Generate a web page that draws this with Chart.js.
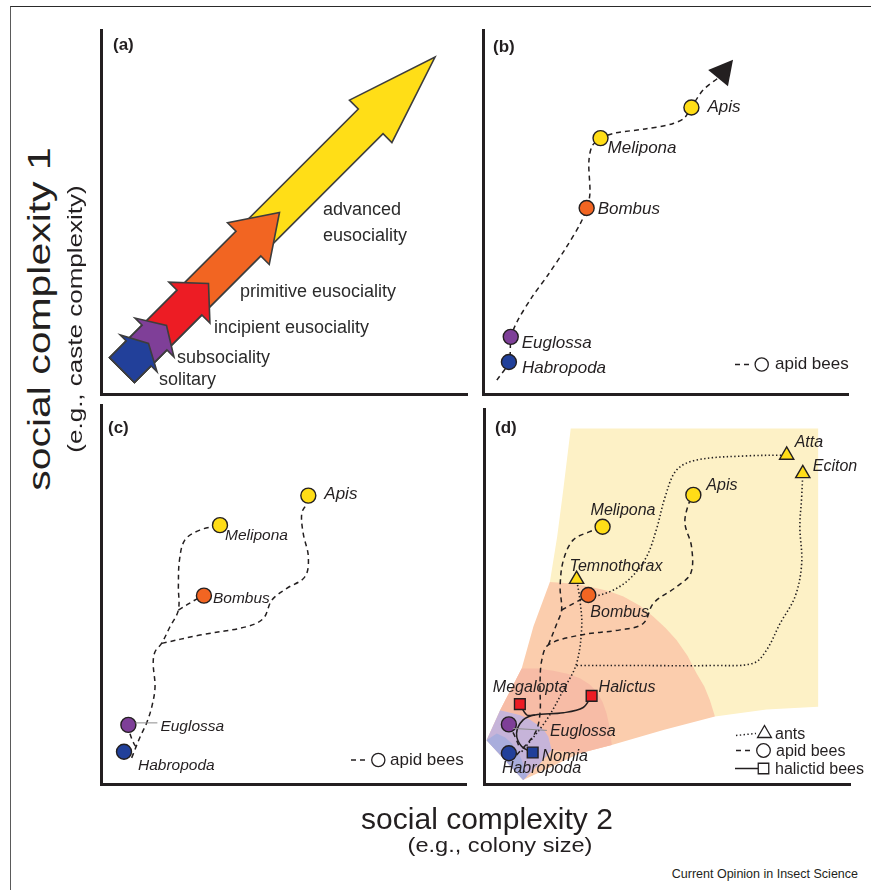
<!DOCTYPE html>
<html><head><meta charset="utf-8">
<script src="https://cdn.jsdelivr.net/npm/chart.js@4/dist/chart.umd.min.js"></script>
<style>
html,body{margin:0;padding:0;background:#fff;}
#wrap{position:relative;width:871px;height:890px;overflow:hidden;background:#fff;font-family:"Liberation Sans",Arial,Helvetica,sans-serif;color:#231f20;}
.frame{position:absolute;left:10px;top:6px;width:900px;height:900px;border-left:1.5px solid #5a5a5a;border-top:1.5px solid #2a2a2a;}
canvas{position:absolute;}
.t{position:absolute;white-space:nowrap;text-align:center;}
</style></head><body>
<div id="wrap">
  <div class="frame"></div>
  <canvas id="pa"></canvas><canvas id="pb"></canvas><canvas id="pc"></canvas><canvas id="pd"></canvas>
  <div class="t" style="left:-160px;top:304px;width:400px;font-size:31px;line-height:30px;transform:rotate(-90deg) scaleX(1.32);">social complexity 1</div>
  <div class="t" style="left:-125px;top:309px;width:400px;font-size:20px;line-height:20px;transform:rotate(-90deg) scaleX(1.3);">(e.g., caste complexity)</div>
  <div class="t" style="left:187px;top:804px;width:600px;font-size:30px;line-height:30px;">social complexity 2</div>
  <div class="t" style="left:200px;top:835px;width:600px;font-size:20px;line-height:20px;transform:scaleX(1.18);">(e.g., colony size)</div>
  <div class="t" style="left:558px;top:867px;width:300px;font-size:12.5px;line-height:14px;text-align:right;">Current Opinion in Insect Science</div>
</div>
<script>
// ================= DATA =================
// (a) stages along one diagonal (tail shared, tips differ)
const stageNames = ['solitary','subsociality','incipient eusociality','primitive eusociality','advanced eusociality'];
const stageTipX = [12.98, 17.90, 29.37, 48.77, 91.26];
const stageTipY = [13.87, 18.82, 30.36, 49.86, 92.58];
const stageTailX = 5.74;
const stageTailY = 6.59;

// (b) apid bees, single trajectory
const bTaxa = ['Apis','Melipona','Bombus','Euglossa','Habropoda'];
const bX = [57.1, 32.2, 28.4, 7.6, 7.1];
const bY = [78.7, 70.3, 51.1, 15.7, 8.8];
const bPathX = [3.8, 7.1, 7.7, 9.3, 13.4, 17.8, 22.7, 26.6, 28.5, 29.3, 29.0, 29.9, 32.3, 36.2, 44.4, 51.8, 55.1, 57.0, 60.3, 64.4];
const bPathY = [3.8, 8.8, 15.7, 19.8, 26.6, 32.7, 40.1, 46.7, 51.1, 55.2, 63.7, 68.1, 70.3, 71.7, 72.8, 74.2, 75.8, 78.6, 83.5, 86.8];
const bArrowTipX = 68.5;
const bArrowTipY = 91.8;

// (c) apid bees, branching
const cTaxa = ['Apis','Melipona','Bombus','Euglossa','Habropoda'];
const cX = [56.8, 32.6, 28.2, 7.5, 6.3];
const cY = [76.1, 68.3, 49.7, 15.6, 8.5];
const cMeliponaPathX = [8.4, 10.7, 12.5, 13.9, 14.8, 14.3, 14.8, 16.6, 18.9, 21.2, 21.2, 21.5, 23.0, 27.1, 32.6];
const cMeliponaPathY = [6.9, 12.4, 16.1, 20.3, 25.6, 31.9, 34.9, 37.1, 41.5, 45.9, 52.1, 59.1, 64.4, 67.0, 68.3];
const cBombusPathX = [21.2, 26.2, 28.2];
const cBombusPathY = [45.9, 48.8, 49.7];
const cApisPathX = [16.6, 27.1, 39.9, 44.5, 46.8, 50.9, 55.9, 56.8, 55.4, 55.0, 56.4, 56.8];
const cApisPathY = [37.1, 39.3, 41.5, 43.7, 48.5, 51.6, 54.7, 60.0, 66.1, 71.4, 74.1, 76.1];
const cEuglossaPathX = [7.5, 7.9, 9.0, 9.9];
const cEuglossaPathY = [15.6, 13.4, 10.7, 9.4];

// (d) ants, apid bees, halictid bees
const dAnts = ['Atta','Eciton','Temnothorax'];
const dAntX = [82.7, 87.1, 25.3];
const dAntY = [87.7, 82.8, 54.6];
const dBees = ['Apis','Melipona','Bombus','Euglossa','Habropoda'];
const dBeeX = [57.2, 32.4, 28.5, 6.8, 6.8];
const dBeeY = [77.1, 68.6, 50.4, 15.9, 8.2];
const dHalictids = ['Megalopta','Halictus','Nomia'];
const dHalX = [9.8, 29.4, 13.3];
const dHalY = [21.3, 23.5, 8.4];

const dAntTrunkX = [10.3, 17.1, 21.7, 25.3, 26.7, 26.2, 25.3];
const dAntTrunkY = [8.6, 17.1, 25.1, 32.2, 42.0, 49.1, 54.6];
const dAttaPathX = [26.2, 34.4, 39.9, 44.4, 47.2, 49.5, 52.6, 58.1, 71.8, 82.7];
const dAttaPathY = [49.1, 51.3, 54.8, 60.6, 68.2, 76.6, 83.7, 86.4, 87.5, 87.7];
const dEcitonPathX = [25.3, 39.9, 62.7, 73.6, 77.2, 80.9, 85.0, 86.8, 86.3, 86.8, 87.1];
const dEcitonPathY = [31.6, 31.6, 31.6, 32.2, 35.7, 42.8, 50.0, 58.8, 68.6, 76.6, 82.8];

const dApisPathX = [8.9, 13.9, 15.3, 15.3, 15.8, 17.6, 26.2, 37.2, 43.5, 46.3, 52.6, 56.5, 56.7, 54.9, 55.8, 57.2];
const dApisPathY = [7.7, 13.5, 18.8, 26.8, 33.1, 37.1, 39.7, 41.1, 42.8, 48.2, 52.6, 56.2, 63.3, 69.5, 74.4, 77.1];
const dMeliponaPathX = [17.6, 19.9, 21.2, 20.8, 21.7, 24.4, 28.9, 32.4];
const dMeliponaPathY = [37.1, 42.8, 46.4, 52.6, 59.7, 65.1, 67.3, 68.6];
const dBombusPathX = [21.2, 25.3, 28.5];
const dBombusPathY = [46.4, 48.6, 50.4];
const dEuglossaPathX = [6.8, 8.5, 9.8];
const dEuglossaPathY = [15.9, 12.6, 9.5];

const dNomiaPathX = [13.3, 10.3, 8.9, 10.7, 13.9, 21.7, 27.1, 29.4];
const dNomiaPathY = [8.4, 10.0, 13.5, 17.1, 18.4, 19.0, 20.4, 23.5];
const dMegaloptaPathX = [9.8, 11.7, 13.9];
const dMegaloptaPathY = [21.3, 18.4, 18.4];

// (d) background zones
const zoneYellowX = [23.7, 91.3, 91.3, 77.2, 63.1, 18.0, 20.0, 21.6];
const zoneYellowY = [94.8, 94.8, 20.6, 19.9, 18.0, 53.9, 66.0, 78.0];
const zoneOrangeX = [18.0, 24.0, 29.0, 34.0, 38.1, 42.5, 46.3, 49.6, 52.6, 55.6, 58.1, 60.2, 61.7, 63.1, 49.0, 34.9, 26.2, 10.7, 0.7, 4.4, 10.3, 13.5];
const zoneOrangeY = [53.9, 53.5, 52.6, 51.5, 50.0, 47.6, 44.6, 41.6, 38.4, 34.2, 29.5, 26.0, 22.4, 18.0, 14.4, 10.4, 8.2, 1.1, 11.7, 19.7, 30.8, 42.0];
const zoneSalmonX = [10.3, 14.8, 18.9, 22.8, 26.2, 28.8, 30.8, 32.4, 33.5, 34.4, 34.9, 26.2, 18.5, 17.6, 14.8, 9.8, 4.4];
const zoneSalmonY = [30.8, 30.8, 30.2, 29.4, 28.2, 26.6, 24.6, 21.9, 18.8, 14.8, 10.4, 8.2, 9.1, 12.6, 15.7, 18.4, 19.7];
const zonePurpleX = [4.4, 9.8, 12.5, 14.8, 16.5, 17.6, 18.5, 15.3, 10.7, 0.7];
const zonePurpleY = [19.7, 18.4, 17.2, 15.7, 14.2, 12.6, 9.1, 5.5, 1.1, 11.7];
const zoneBlueX = [0.7, 3.5, 5.8, 7.6, 9.2, 10.3, 11.2, 11.7, 10.7];
const zoneBlueY = [11.7, 13.5, 12.4, 10.8, 8.8, 6.4, 4.0, 2.0, 1.1];

// ================= STYLE =================
const INK = '#231f20';
const FONT = '"Liberation Sans", Arial, Helvetica, sans-serif';
const TAXON_COLOR = {
  Apis:'#ffdd17', Melipona:'#ffdd17', Bombus:'#f26522', Euglossa:'#7e3f98', Habropoda:'#21409a',
  Atta:'#ffdd17', Eciton:'#ffdd17', Temnothorax:'#ffdd17',
  Megalopta:'#ed1c24', Halictus:'#ed1c24', Nomia:'#21409a'
};
const STAGE_STYLE = {
  colors: ['#22409a', '#7f3f98', '#ed1c24', '#f26522', '#ffde17'],
  headLen: [14, 17, 27, 44, 91],
  headHalf: [26, 27.5, 29, 29.5, 30],
  shaftHalf: 17.5,
  label: [
    {dx:10.5, dy:41.5, lines:['solitary']},
    {dx:10.5, dy:37.5, lines:['subsociality']},
    {dx:5.5, dy:49.5, lines:['incipient eusociality']},
    {dx:-39.5, dy:84.5, lines:['primitive eusociality']},
    {dx:-112, dy:158, lines:['advanced','eusociality']}
  ]
};
const DASH = [5, 4];
const DOT = [1.4, 2.4];
const PAD = {left:22, right:24, top:22, bottom:22};

// ================= HELPERS =================
const zip = (xs, ys) => xs.map((x, i) => ({x, y: ys[i]}));
function pathDs(xs, ys, extra) {
  return Object.assign({data: zip(xs, ys), showLine: true, pointRadius: 0, pointHoverRadius: 0,
    borderColor: INK, borderWidth: 1.5, borderDash: DASH, tension: 0.35, fill: false, clip: false, order: 10}, extra || {});
}
function zoneDs(xs, ys, color, order) {
  return {data: zip(xs, ys), showLine: true, pointRadius: 0, pointHoverRadius: 0, borderWidth: 0,
    borderColor: 'rgba(0,0,0,0)', backgroundColor: color, fill: 'shape', tension: 0, clip: false, order};
}
function pointDs(names, xs, ys, shape, radius, order) {
  return {data: zip(xs, ys), names, showLine: false, pointStyle: shape, pointRadius: radius, pointHoverRadius: radius,
    pointBackgroundColor: names.map(n => TAXON_COLOR[n]), pointBorderColor: INK, pointBorderWidth: 1.4,
    clip: false, order: order || 0};
}
function axis(which) {
  return {type: 'linear', min: 0, max: 100, grid: {display: false}, ticks: {display: false},
    border: {display: true, color: INK, width: 3},
    afterFit(s) { if (which === 'x') s.height = 0; else s.width = 0; }};
}

function drawMarker(ctx, kind, x, y, r, fill) {
  ctx.beginPath();
  if (kind === 'circle') ctx.arc(x, y, r, 0, Math.PI * 2);
  else if (kind === 'triangle') { ctx.moveTo(x, y - r); ctx.lineTo(x + r * 0.866, y + r * 0.5); ctx.lineTo(x - r * 0.866, y + r * 0.5); ctx.closePath(); }
  else { const s = r * 0.75; ctx.rect(x - s, y - s, 2 * s, 2 * s); }
  ctx.fillStyle = fill; ctx.fill();
  ctx.lineWidth = 1.3; ctx.strokeStyle = INK; ctx.stroke();
}

const taxonLabelPlugin = {
  id: 'taxonLabels',
  afterDatasetsDraw(chart, args, opts) {
    if (!opts.offsets) return;
    const ctx = chart.ctx;
    ctx.save();
    chart.data.datasets.forEach((ds, i) => {
      if (!ds.names) return;
      const meta = chart.getDatasetMeta(i);
      ds.names.forEach((name, j) => {
        const el = meta.data[j], o = opts.offsets[name];
        if (!el || !o) return;
        if (o.leader) {
          ctx.strokeStyle = '#8c8c8c'; ctx.lineWidth = 1; ctx.setLineDash([]);
          ctx.beginPath(); ctx.moveTo(el.x + o.leader[0], el.y + o.leader[1]); ctx.lineTo(el.x + o.leader[2], el.y + o.leader[3]); ctx.stroke();
        }
        ctx.font = 'italic ' + (o.size || opts.size) + 'px ' + FONT;
        ctx.fillStyle = INK; ctx.textAlign = 'left'; ctx.textBaseline = 'alphabetic';
        ctx.fillText(name, el.x + o.dx, el.y + o.dy);
      });
    });
    ctx.restore();
  }
};

const decorPlugin = {
  id: 'decor',
  afterDraw(chart, args, opts) {
    const ctx = chart.ctx, {left, top} = chart.chartArea;
    ctx.save();
    if (opts.letter) {
      ctx.font = 'bold 17px ' + FONT; ctx.fillStyle = INK; ctx.textBaseline = 'alphabetic'; ctx.textAlign = 'left';
      ctx.fillText(opts.letter, left + opts.letterAt[0], top + opts.letterAt[1]);
    }
    (opts.legend || []).forEach(e => {
      ctx.save();
      ctx.strokeStyle = INK; ctx.lineWidth = 1.5;
      ctx.setLineDash(e.line === 'dashed' ? DASH : e.line === 'dotted' ? DOT : []);
      ctx.beginPath(); ctx.moveTo(left + e.x0, top + e.y + (e.rise || 0)); ctx.lineTo(left + e.x1, top + e.y); ctx.stroke();
      ctx.restore();
      drawMarker(ctx, e.marker, left + e.mx, top + e.y, e.r, '#fff');
      ctx.font = (e.size || 16) + 'px ' + FONT; ctx.fillStyle = INK; ctx.textAlign = 'left'; ctx.textBaseline = 'alphabetic';
      ctx.fillText(e.text, left + e.tx, top + e.y + e.ty);
    });
    ctx.restore();
  }
};

const stagePlugin = {
  id: 'stageArrows',
  beforeDatasetsDraw(chart) {
    const xs = chart.scales.x, ys = chart.scales.y, ctx = chart.ctx;
    const ox = xs.getPixelForValue(stageTailX), oy = ys.getPixelForValue(stageTailY);
    ctx.save();
    ctx.lineJoin = 'miter';
    for (let i = stageNames.length - 1; i >= 0; i--) {
      const tx = xs.getPixelForValue(stageTipX[i]), ty = ys.getPixelForValue(stageTipY[i]);
      const dx = tx - ox, dy = ty - oy, L = Math.hypot(dx, dy), ux = dx / L, uy = dy / L, nx = -uy, ny = ux;
      const hl = STAGE_STYLE.headLen[i], hw = STAGE_STYLE.headHalf[i], sw = STAGE_STYLE.shaftHalf;
      const bx = tx - ux * hl, by = ty - uy * hl;
      ctx.beginPath();
      ctx.moveTo(ox + nx * sw, oy + ny * sw);
      ctx.lineTo(bx + nx * sw, by + ny * sw);
      ctx.lineTo(bx + nx * hw, by + ny * hw);
      ctx.lineTo(tx, ty);
      ctx.lineTo(bx - nx * hw, by - ny * hw);
      ctx.lineTo(bx - nx * sw, by - ny * sw);
      ctx.lineTo(ox - nx * sw, oy - ny * sw);
      ctx.closePath();
      ctx.fillStyle = STAGE_STYLE.colors[i]; ctx.fill();
      ctx.lineWidth = 1.6; ctx.strokeStyle = '#3d3d3d'; ctx.stroke();
    }
    ctx.font = '18px ' + FONT; ctx.fillStyle = '#2b2b2b'; ctx.textAlign = 'left'; ctx.textBaseline = 'alphabetic';
    stageNames.forEach((n, i) => {
      const tx = xs.getPixelForValue(stageTipX[i]), ty = ys.getPixelForValue(stageTipY[i]);
      const lab = STAGE_STYLE.label[i];
      lab.lines.forEach((ln, k) => ctx.fillText(ln, tx + lab.dx, ty + lab.dy + k * 26));
    });
    ctx.restore();
  }
};

const arrowHeadPlugin = {
  id: 'trendArrow',
  afterDatasetsDraw(chart, args, opts) {
    if (!opts.tip) return;
    const xs = chart.scales.x, ys = chart.scales.y, ctx = chart.ctx;
    const tx = xs.getPixelForValue(opts.tip.x), ty = ys.getPixelForValue(opts.tip.y);
    const bx = xs.getPixelForValue(opts.base.x), by = ys.getPixelForValue(opts.base.y);
    const dx = tx - bx, dy = ty - by, L = Math.hypot(dx, dy), nx = -dy / L, ny = dx / L, hw = 12.8;
    ctx.save();
    ctx.beginPath(); ctx.moveTo(tx, ty); ctx.lineTo(bx + nx * hw, by + ny * hw); ctx.lineTo(bx - nx * hw, by - ny * hw); ctx.closePath();
    ctx.fillStyle = INK; ctx.fill();
    ctx.restore();
  }
};

function makeChart(id, box, datasets, pluginOpts, extraPlugins) {
  const cv = document.getElementById(id);
  cv.width = box.w + PAD.left + PAD.right; cv.height = box.h + PAD.top + PAD.bottom;
  cv.style.left = (box.x - PAD.left) + 'px'; cv.style.top = (box.y - PAD.top) + 'px';
  return new Chart(cv, {
    type: 'scatter',
    data: {datasets},
    options: {
      responsive: false, animation: false, devicePixelRatio: 1, events: [],
      layout: {padding: PAD},
      plugins: Object.assign({legend: {display: false}, tooltip: {enabled: false}}, pluginOpts),
      scales: {x: axis('x'), y: axis('y')}
    },
    plugins: [taxonLabelPlugin, decorPlugin].concat(extraPlugins || [])
  });
}

// ---- (a)
makeChart('pa', {x: 101, y: 30, w: 366, h: 364},
  [{data: zip(stageTipX, stageTipY), pointRadius: 0, showLine: false}],
  {decor: {letter: '(a)', letterAt: [12, 20]}},
  [stagePlugin]);

// ---- (b)
makeChart('pb', {x: 483, y: 30, w: 365, h: 364},
  [pointDs(bTaxa, bX, bY, 'circle', 7.5, 0), pathDs(bPathX, bPathY, {tension: 0.3})],
  {decor: {letter: '(b)', letterAt: [10, 22], legend: [
      {line: 'dashed', x0: 252, x1: 268, y: 334.5, marker: 'circle', mx: 278.7, r: 6.6, tx: 292, ty: 4.5, text: 'apid bees', size: 17}]},
   taxonLabels: {size: 17, offsets: {
      Apis: {dx: 16, dy: 4}, Melipona: {dx: 7, dy: 15}, Bombus: {dx: 11, dy: 6},
      Euglossa: {dx: 11, dy: 11}, Habropoda: {dx: 13, dy: 11}}},
   trendArrow: {tip: {x: bArrowTipX, y: bArrowTipY}, base: {x: bPathX[bPathX.length - 1], y: bPathY[bPathY.length - 1]}}},
  [arrowHeadPlugin]);

// ---- (c)
makeChart('pc', {x: 101, y: 405, w: 365, h: 379},
  [pointDs(cTaxa, cX, cY, 'circle', 7.5, 0),
   pathDs(cMeliponaPathX, cMeliponaPathY), pathDs(cBombusPathX, cBombusPathY),
   pathDs(cApisPathX, cApisPathY), pathDs(cEuglossaPathX, cEuglossaPathY)],
  {decor: {letter: '(c)', letterAt: [7, 28], legend: [
      {line: 'dashed', x0: 250, x1: 266, y: 355, marker: 'circle', mx: 277.3, r: 6.6, tx: 289, ty: 4.5, text: 'apid bees', size: 17}]},
   taxonLabels: {size: 15.5, offsets: {
      Apis: {dx: 16, dy: 3, size: 17}, Melipona: {dx: 5, dy: 15}, Bombus: {dx: 9, dy: 7},
      Euglossa: {dx: 32, dy: 6, leader: [7, -2, 29, -2]}, Habropoda: {dx: 14, dy: 18}}}});

// ---- (d)
makeChart('pd', {x: 484, y: 409, w: 366, h: 375},
  [pointDs(dAnts, dAntX, dAntY, 'triangle', 8.2, 0),
   pointDs(dBees, dBeeX, dBeeY, 'circle', 7.5, 1),
   pointDs(dHalictids, dHalX, dHalY, 'rect', 7.6, 2),
   pathDs(dAntTrunkX, dAntTrunkY, {borderDash: DOT, borderWidth: 1.6}),
   pathDs(dAttaPathX, dAttaPathY, {borderDash: DOT, borderWidth: 1.6}),
   pathDs(dEcitonPathX, dEcitonPathY, {borderDash: DOT, borderWidth: 1.6}),
   pathDs(dApisPathX, dApisPathY), pathDs(dMeliponaPathX, dMeliponaPathY),
   pathDs(dBombusPathX, dBombusPathY), pathDs(dEuglossaPathX, dEuglossaPathY),
   pathDs(dNomiaPathX, dNomiaPathY, {borderDash: []}), pathDs(dMegaloptaPathX, dMegaloptaPathY, {borderDash: []}),
   zoneDs(zoneBlueX, zoneBlueY, '#a9addc', 21),
   zoneDs(zonePurpleX, zonePurpleY, '#c6b4d9', 22),
   zoneDs(zoneSalmonX, zoneSalmonY, '#f7bca6', 23),
   zoneDs(zoneOrangeX, zoneOrangeY, '#fbcdad', 24),
   zoneDs(zoneYellowX, zoneYellowY, '#fdf1c6', 25)],
  {decor: {letter: '(d)', letterAt: [11, 24], legend: [
      {line: 'dotted', x0: 252, x1: 272, y: 324.5, rise: 2, marker: 'triangle', mx: 280.5, r: 8, tx: 291, ty: 5, text: 'ants'},
      {line: 'dashed', x0: 252, x1: 270, y: 341.5, marker: 'circle', mx: 279.5, r: 6.8, tx: 292, ty: 5, text: 'apid bees'},
      {line: 'solid', x0: 251, x1: 274, y: 359.5, marker: 'square', mx: 279.5, r: 7, tx: 291, ty: 5, text: 'halictid bees'}]},
   taxonLabels: {size: 16, offsets: {
      Atta: {dx: 8, dy: -8}, Eciton: {dx: 10, dy: -3}, Temnothorax: {dx: -7, dy: -8},
      Apis: {dx: 13, dy: -5}, Melipona: {dx: -12, dy: -12}, Bombus: {dx: 2, dy: 22},
      Euglossa: {dx: 41, dy: 12, leader: [4, 4, 38, 6]}, Habropoda: {dx: -7, dy: 20},
      Megalopta: {dx: -27, dy: -12}, Halictus: {dx: 7, dy: -4}, Nomia: {dx: 9, dy: 8}}}});
</script>
</body></html>
